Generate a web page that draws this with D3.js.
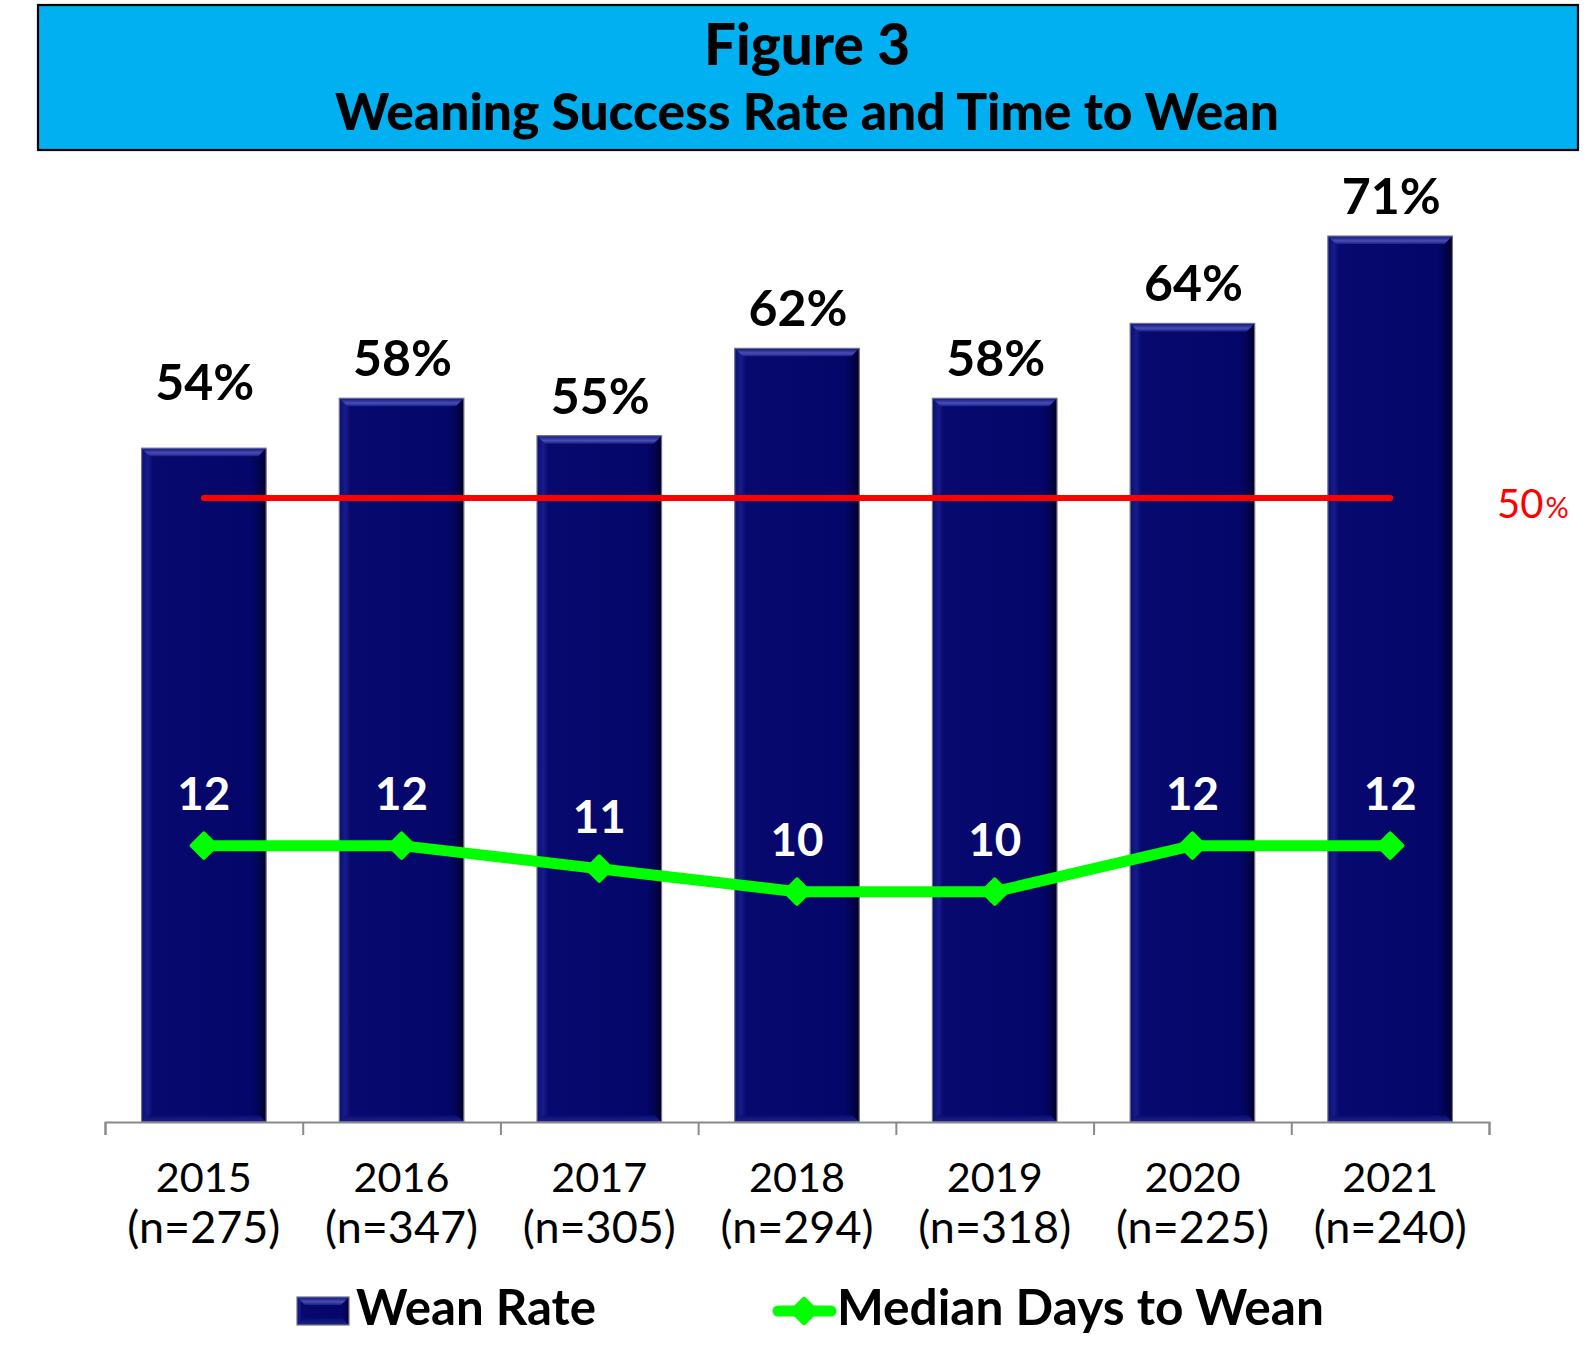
<!DOCTYPE html>
<html>
<head>
<meta charset="utf-8">
<script src="https://cdn.jsdelivr.net/npm/d3@7"></script>
<style>
  html, body { margin: 0; padding: 0; background: #fff; }
  svg { display: block; }
  text { font-family: "Lato", "Open Sans", sans-serif; }
</style>
</head>
<body>
<svg id="chart" width="1591" height="1356"></svg>
<script>
// ---- data ----
const years = ["2015", "2016", "2017", "2018", "2019", "2020", "2021"];
const nLabels = ["(n=275)", "(n=347)", "(n=305)", "(n=294)", "(n=318)", "(n=225)", "(n=240)"];
const weanRate = [54, 58, 55, 62, 58, 64, 71];
const medianDays = [12, 12, 11, 10, 10, 12, 12];
const targetRate = [50];
const seriesNames = ["Wean Rate", "Median Days to Wean"];
const titleLines = ["Figure 3", "Weaning Success Rate and Time to Wean"];

// ---- helpers ----
function fit(sel, w) {
  const n = sel.node();
  const fs = parseFloat(sel.attr("font-size"));
  const cur = n.getComputedTextLength();
  if (cur > 0) sel.attr("font-size", fs * w / cur);
  return sel;
}

const svg = d3.select("#chart");
const defs = svg.append("defs");

// bar gradients
const gMain = defs.append("linearGradient").attr("id", "barMain").attr("x1", 0).attr("x2", 1).attr("y1", 0).attr("y2", 0);
[[0, "#0a0f72"], [0.05, "#161c8a"], [0.09, "#07096e"], [0.88, "#04066a"], [0.95, "#02034e"], [1, "#000022"]]
  .forEach(([o, c]) => gMain.append("stop").attr("offset", o).attr("stop-color", c));
const gTop = defs.append("linearGradient").attr("id", "barTop").attr("x1", 0).attr("x2", 0).attr("y1", 0).attr("y2", 1);
[[0, "#10157c"], [0.35, "#2f34a0"], [0.6, "#4a4eb2"], [1, "#1a1f86"]]
  .forEach(([o, c]) => gTop.append("stop").attr("offset", o).attr("stop-color", c));
const gBot = defs.append("linearGradient").attr("id", "barBot").attr("x1", 0).attr("x2", 0).attr("y1", 0).attr("y2", 1);
[[0, "#0a0e74"], [1, "#1f2388"]]
  .forEach(([o, c]) => gBot.append("stop").attr("offset", o).attr("stop-color", c));

// ---- scales ----
const baseY = 1122;
const x = d3.scaleBand().domain(years).range([105, 1489]).paddingInner(0.37).paddingOuter(0.185);
const xEdge = d3.scaleLinear().domain([0, years.length]).range([105, 1489]);
const y = d3.scaleLinear().domain([0, 80]).range([baseY, baseY - 80 * 12.478]);
const y2 = d3.scaleLinear().domain([0, 40]).range([baseY, baseY - 40 * 23.03]);
const cx = d => x(d) + x.bandwidth() / 2;

// ---- title box ----
svg.append("rect").attr("x", 38).attr("y", 5).attr("width", 1540).attr("height", 145)
  .attr("fill", "#00b0f0").attr("stroke", "#000").attr("stroke-width", 2.2);
const t1 = svg.append("text").attr("x", 807).attr("y", 65).attr("text-anchor", "middle")
  .attr("font-weight", 900).attr("font-size", 50).attr("fill", "#000").text(titleLines[0]);
fit(t1, 206);
const t2 = svg.append("text").attr("x", 807).attr("y", 130).attr("text-anchor", "middle")
  .attr("font-weight", 900).attr("font-size", 44).attr("fill", "#000").text(titleLines[1]);
fit(t2, 944);

// ---- bars ----
function drawBar(g, x0, y0, w, h) {
  const b = Math.min(8, h / 2);
  g.append("rect").attr("x", x0).attr("y", y0).attr("width", w).attr("height", h)
    .attr("fill", "url(#barMain)");
  g.append("path").attr("d", `M${x0},${y0}L${x0 + w},${y0}L${x0 + w - b},${y0 + b}L${x0 + b},${y0 + b}Z`)
    .attr("fill", "url(#barTop)");
  g.append("path").attr("d", `M${x0},${y0 + h}L${x0 + w},${y0 + h}L${x0 + w - b * 0.8},${y0 + h - b * 0.8}L${x0 + b * 0.8},${y0 + h - b * 0.8}Z`)
    .attr("fill", "url(#barBot)");
  g.append("rect").attr("x", x0).attr("y", y0).attr("width", w).attr("height", h)
    .attr("fill", "none").attr("stroke", "#70708c").attr("stroke-width", 1.2);
}
const barsG = svg.append("g");
years.forEach((yr, i) => {
  const g = barsG.append("g");
  drawBar(g, x(yr), y(weanRate[i]), x.bandwidth(), y(0) - y(weanRate[i]));
});

// ---- x axis ----
const axisG = svg.append("g").attr("transform", `translate(0,${baseY})`)
  .call(d3.axisBottom(xEdge).tickValues(d3.range(years.length + 1)).tickSize(13).tickFormat("").tickSizeOuter(13));
axisG.selectAll("path, line").attr("stroke", "#8a8a8a").attr("stroke-width", 2);

years.forEach((yr, i) => {
  const a = svg.append("text").attr("x", cx(yr)).attr("y", 1192).attr("text-anchor", "middle")
    .attr("font-size", 42).attr("fill", "#000").text(yr);
  fit(a, 96);
  const b = svg.append("text").attr("x", cx(yr)).attr("y", 1243).attr("text-anchor", "middle")
    .attr("font-size", 42).attr("fill", "#000").text(nLabels[i]);
  fit(b, 153);
});

// ---- value labels for bars ----
years.forEach((yr, i) => {
  const extra = i === 0 ? 26 : 0;
  const t = svg.append("text").attr("x", cx(yr) + 1).attr("y", y(weanRate[i]) - 22 - extra)
    .attr("text-anchor", "middle").attr("font-weight", 700).attr("font-size", 46)
    .attr("fill", "#000").text(weanRate[i] + "%");
  fit(t, 99);
});

// ---- 50% target line ----
svg.append("line")
  .attr("x1", cx(years[0])).attr("x2", cx(years[years.length - 1]))
  .attr("y1", y(targetRate[0])).attr("y2", y(targetRate[0]))
  .attr("stroke", "#ff0000").attr("stroke-width", 6).attr("stroke-linecap", "round");
const tl = svg.append("text").attr("x", 1497).attr("y", y(targetRate[0]) + 20)
  .attr("fill", "#ff0000").attr("font-size", 40);
tl.append("tspan").text(targetRate[0]);
tl.append("tspan").attr("font-size", 29).attr("dx", 2).text("%");

// ---- median days line ----
const line = d3.line().x((d, i) => cx(years[i])).y(d => y2(d));
svg.append("path").datum(medianDays).attr("d", line)
  .attr("fill", "none").attr("stroke", "#00ff00").attr("stroke-width", 11)
  .attr("stroke-linejoin", "round");
const diamond = d3.symbol().type(d3.symbolSquare).size(300);
svg.append("g").selectAll("path").data(medianDays).join("path")
  .attr("d", diamond)
  .attr("transform", (d, i) => `translate(${cx(years[i])},${y2(d)}) rotate(45)`)
  .attr("fill", "#00ff00").attr("stroke", "#00ff00").attr("stroke-width", 4).attr("stroke-linejoin", "round");
medianDays.forEach((d, i) => {
  const t = svg.append("text").attr("x", cx(years[i])).attr("y", y2(d) - 36)
    .attr("text-anchor", "middle").attr("font-weight", 700).attr("font-size", 44)
    .attr("fill", "#fff").text(d);
  fit(t, 53 * String(d).length / 2);
});

// ---- legend ----
const lg = svg.append("g");
drawBar(lg.append("g"), 297, 1297, 52, 28);
const l1 = lg.append("text").attr("x", 356).attr("y", 1325).attr("font-weight", 700)
  .attr("font-size", 44).attr("fill", "#000").text(seriesNames[0]);
fit(l1, 240);
lg.append("line").attr("x1", 778).attr("x2", 831).attr("y1", 1311).attr("y2", 1311)
  .attr("stroke", "#00ff00").attr("stroke-width", 11).attr("stroke-linecap", "round");
lg.append("path").attr("d", diamond).attr("transform", "translate(804,1311) rotate(45)")
  .attr("fill", "#00ff00").attr("stroke", "#00ff00").attr("stroke-width", 4).attr("stroke-linejoin", "round");
const l2 = lg.append("text").attr("x", 837).attr("y", 1325).attr("font-weight", 700)
  .attr("font-size", 44).attr("fill", "#000").text(seriesNames[1]);
fit(l2, 487);
</script>
</body>
</html>
